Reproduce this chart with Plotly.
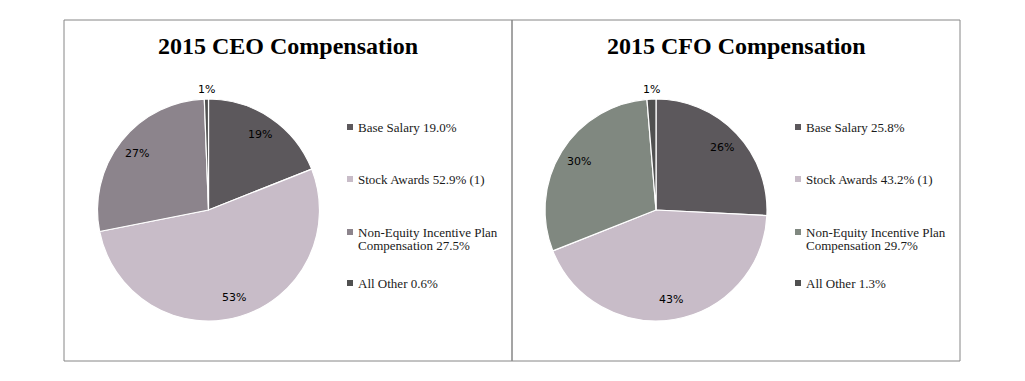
import math
import plotly.graph_objects as go

# browser default body margin offsets the figure by 8px
OFF = 8
W, H = 1025 - 2 * OFF, 381 - 2 * OFF

categories = ["Base Salary", "Stock Awards", "Non-Equity Incentive Plan Compensation", "All Other"]
ceo_values = [19.0, 52.9, 27.5, 0.6]
cfo_values = [25.8, 43.2, 29.7, 1.3]
ceo_pct_labels = ["19%", "53%", "27%", "1%"]
cfo_pct_labels = ["26%", "43%", "30%", "1%"]
ceo_legend = ["Base Salary 19.0%", "Stock Awards 52.9% (1)",
              "Non-Equity Incentive Plan<br>Compensation 27.5%", "All Other 0.6%"]
cfo_legend = ["Base Salary 25.8%", "Stock Awards 43.2% (1)",
              "Non-Equity Incentive Plan<br>Compensation 29.7%", "All Other 1.3%"]
ceo_colors = ["#5c585c", "#c8bcc8", "#8c848c", "#505050"]
cfo_colors = ["#5c585c", "#c8bcc8", "#808880", "#505050"]
titles = ["2015 CEO Compensation", "2015 CFO Compensation"]

# panel geometry (page pixels)
panels = [
    dict(x0=64, x1=512, cx=208.5, cy=210, r=111, lx=347, values=ceo_values,
         pct=ceo_pct_labels, legend=ceo_legend, colors=ceo_colors, title=titles[0]),
    dict(x0=512, x1=960, cx=656, cy=210, r=111, lx=795, values=cfo_values,
         pct=cfo_pct_labels, legend=cfo_legend, colors=cfo_colors, title=titles[1]),
]
frame_top, frame_bottom = 20, 361
legend_y = [127, 179, 232, 283]
LINE_GAP = 13.5

def px(x):
    return (x - OFF) / W

def py(y):
    return 1 - (y - OFF) / H

fig = go.Figure()
shapes = []
annotations = []

for p in panels:
    fig.add_trace(go.Pie(
        labels=categories, values=p["values"], sort=False, direction="clockwise",
        rotation=0, textinfo="none", hoverinfo="label+percent",
        marker=dict(colors=p["colors"], line=dict(color="white", width=1.2)),
        domain=dict(x=[px(p["cx"] - p["r"]), px(p["cx"] + p["r"])],
                    y=[py(p["cy"] + p["r"]), py(p["cy"] - p["r"])]),
        showlegend=False,
    ))
    # frame
    shapes.append(dict(type="rect", xref="paper", yref="paper",
                       x0=px(p["x0"]), x1=px(p["x1"]), y0=py(frame_bottom), y1=py(frame_top),
                       line=dict(color="#868686", width=1), fillcolor="rgba(0,0,0,0)"))
    # title
    annotations.append(dict(text="<b>" + p["title"] + "</b>", xref="paper", yref="paper",
                            x=px((p["x0"] + p["x1"]) / 2), y=py(46), showarrow=False,
                            xanchor="center", yanchor="middle",
                            font=dict(family="Liberation Serif", size=24, color="black")))
    # percentage labels placed from cumulative values
    total = sum(p["values"])
    cum = 0
    for v, lab in zip(p["values"], p["pct"]):
        frac = v / total
        mid = (cum + frac / 2) * 2 * math.pi
        cum += frac
        d = p["r"] * (0.82 if frac > 0.05 else 1.09)
        x = p["cx"] + d * math.sin(mid)
        y = p["cy"] - d * math.cos(mid)
        annotations.append(dict(text=lab, xref="paper", yref="paper",
                                x=px(x), y=py(y), showarrow=False,
                                xanchor="center", yanchor="middle",
                                font=dict(family="DejaVu Sans", size=11, color="black")))
    # legend
    for lbl, col, ly in zip(p["legend"], p["colors"], legend_y):
        shapes.append(dict(type="rect", xref="paper", yref="paper",
                           x0=px(p["lx"]), x1=px(p["lx"] + 6),
                           y0=py(ly + 3), y1=py(ly - 3),
                           line=dict(width=0), fillcolor=col))
        for i, line in enumerate(lbl.split("<br>")):
            annotations.append(dict(text=line, xref="paper", yref="paper",
                                    x=px(p["lx"] + 9), y=py(ly + i * LINE_GAP),
                                    showarrow=False, xanchor="left", yanchor="middle",
                                    align="left",
                                    font=dict(family="Liberation Serif", size=13,
                                              color="#1a1a1a")))

fig.update_layout(
    width=W, height=H, margin=dict(l=0, r=0, t=0, b=0),
    paper_bgcolor="white", plot_bgcolor="white",
    shapes=shapes, annotations=annotations, showlegend=False,
)

fig.write_html("out.html")
